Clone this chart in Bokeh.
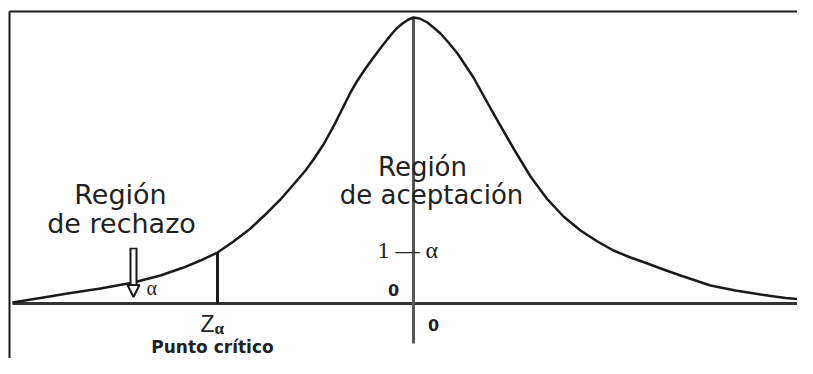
from bokeh.plotting import figure
from bokeh.models import Arrow, NormalHead
from bokeh.embed import file_html
from bokeh.resources import INLINE
from bokeh.core.properties import value

# ---- data (z units, density units) ----
curve_z = [-4.01, -3.73, -3.46, -3.13, -2.80, -2.53, -2.30, -2.13, -1.96, -1.80,
           -1.63, -1.46, -1.33, -1.20, -1.08, -1.00, -0.90, -0.80, -0.73, -0.63,
           -0.56, -0.48, -0.40, -0.31, -0.23, -0.17, -0.11, -0.05, 0.00,
           0.06, 0.14, 0.20, 0.27, 0.35, 0.44, 0.52, 0.60, 0.71, 0.84,
           1.00, 1.17, 1.34, 1.50, 1.67, 1.84, 2.00, 2.17, 2.34, 2.50,
           2.67, 2.82, 2.97, 3.22, 3.47, 3.72, 4.00]
curve_f = [0.0014, 0.0077, 0.0140, 0.0210, 0.0294, 0.0392, 0.0503, 0.0601, 0.0713, 0.0867,
           0.1049, 0.1273, 0.1455, 0.1664, 0.1860, 0.2014, 0.2224, 0.2476, 0.2671, 0.2951,
           0.3119, 0.3287, 0.3441, 0.3608, 0.3748, 0.3846, 0.3916, 0.3972, 0.4000,
           0.3986, 0.3930, 0.3860, 0.3776, 0.3650, 0.3497, 0.3329, 0.3161, 0.2881, 0.2559,
           0.2168, 0.1776, 0.1455, 0.1217, 0.1021, 0.0867, 0.0741, 0.0643, 0.0559, 0.0476,
           0.0392, 0.0322, 0.0252, 0.0182, 0.0126, 0.0077, 0.0042]
z_alpha = -1.96
f_at_z_alpha = 0.0713
axis_bottom = -0.056
arrow_z = -2.80
arrow_top = 0.078
arrow_tip = 0.009

labels_left = ["Región", "de rechazo"]
labels_center = ["Región", "de aceptación"]
label_one_minus_alpha = "1 — α"
label_zero = "0"
label_z = "Z"
label_alpha = "α"
label_critical = "Punto crítico"

# ---- figure: 100 px per z unit, 715 px per density unit ----
W, H = 797, 358
PX = 100.0            # px per z unit
CX = 413              # px of z = 0
ky = 0.4 / 286.0      # density per px
BY = 303              # px of density 0
x0 = (0 - CX) / PX
x1 = x0 + W / PX
y1 = BY * ky
y0 = y1 - H * ky

p = figure(width=W, height=H, x_range=(x0, x1), y_range=(y0, y1),
           output_backend="svg", toolbar_location=None, min_border=0)
p.axis.visible = False
p.grid.visible = False
p.outline_line_color = None
p.background_fill_color = "white"
p.border_fill_color = "white"

ink = "#1a1a1a"
frame_left = (9 - CX) / PX
frame_top = (BY - 11) * ky

# frame (left and top)
p.segment(x0=[frame_left], y0=[y0 - 1], x1=[frame_left], y1=[frame_top], line_color=ink, line_width=2)
p.segment(x0=[frame_left], y0=[frame_top], x1=[x1 + 1], y1=[frame_top], line_color=ink, line_width=2)

# baseline
p.segment(x0=[curve_z[0]], y0=[0], x1=[x1 + 1], y1=[0], line_color="#333333", line_width=3)

# vertical axis at 0
p.segment(x0=[0], y0=[axis_bottom], x1=[0], y1=[max(curve_f)], line_color="#555555", line_width=3)

# critical point line
p.segment(x0=[z_alpha], y0=[0], x1=[z_alpha], y1=[f_at_z_alpha], line_color=ink, line_width=3)

# curve
p.line(curve_z, curve_f, line_color=ink, line_width=2.5, line_join="round")

# hollow arrow
p.segment(x0=[arrow_z], y0=[arrow_top], x1=[arrow_z], y1=[arrow_tip + 0.012], line_color=ink, line_width=8)
p.segment(x0=[arrow_z], y0=[arrow_top - 0.002], x1=[arrow_z], y1=[arrow_tip + 0.010], line_color="white", line_width=4)
p.add_layout(Arrow(end=NormalHead(size=12, fill_color="white", line_color=ink, line_width=2),
                   x_start=arrow_z, y_start=arrow_tip + 0.014, x_end=arrow_z, y_end=arrow_tip,
                   line_color=None, line_width=0))

sans = value("DejaVu Sans")
serif = value("Liberation Serif")
txt = "#222222"
TEXT_SHIFT = 9  # px, compensates the rendered baseline offset

def tx(px):
    return (px - CX) / PX

def ty(py):
    return (BY - (py - TEXT_SHIFT)) * ky

p.text(x=[tx(120)], y=[ty(203)], text=[labels_left[0]], text_font=sans, text_font_size="27px",
       text_align="center", text_baseline="alphabetic", text_color=txt)
p.text(x=[tx(121)], y=[ty(232)], text=[labels_left[1]], text_font=sans, text_font_size="27px",
       text_align="center", text_baseline="alphabetic", text_color=txt)
p.text(x=[tx(422)], y=[ty(175)], text=[labels_center[0]], text_font=sans, text_font_size="26px",
       text_align="center", text_baseline="alphabetic", text_color=txt)
p.text(x=[tx(431)], y=[ty(203)], text=[labels_center[1]], text_font=sans, text_font_size="26px",
       text_align="center", text_baseline="alphabetic", text_color=txt)

p.text(x=[tx(377)], y=[ty(258)], text=[label_one_minus_alpha], text_font=serif,
       text_font_size="24px", text_align="left", text_baseline="alphabetic", text_color=txt)
p.text(x=[tx(393)], y=[ty(298)], text=[label_zero], text_font=sans,
       text_font_size="16px", text_font_style="bold", text_align="center", text_baseline="alphabetic", text_color=txt)
p.text(x=[tx(433)], y=[ty(333)], text=[label_zero], text_font=sans,
       text_font_size="16px", text_font_style="bold", text_align="center", text_baseline="alphabetic", text_color=txt)

p.text(x=[tx(207)], y=[ty(332)], text=[label_z], text_font=value("Liberation Sans"),
       text_font_size="23px", text_align="center", text_baseline="alphabetic", text_color=txt)
p.text(x=[tx(214)], y=[ty(337)], text=[label_alpha], text_font=serif,
       text_font_size="17px", text_font_style="bold", text_align="left", text_baseline="alphabetic", text_color=txt)
p.text(x=[tx(212)], y=[ty(355)], text=[label_critical], text_font=sans,
       text_font_size="17px", text_font_style="bold", text_align="center", text_baseline="alphabetic", text_color=txt)
p.text(x=[tx(146)], y=[ty(296)], text=[label_alpha], text_font=serif,
       text_font_size="20px", text_align="left", text_baseline="alphabetic", text_color=txt)

open("out.html", "w").write(file_html(p, INLINE))
